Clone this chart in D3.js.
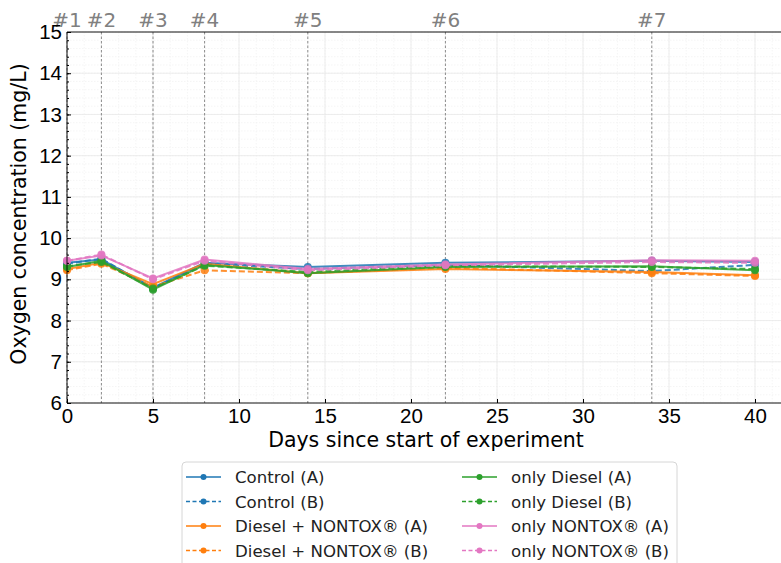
<!DOCTYPE html>
<html>
<head>
<meta charset="utf-8">
<script src="https://cdn.jsdelivr.net/npm/d3@7"></script>
<style>
  body { margin: 0; background: #fff; }
  svg { display: block; font-family: "DejaVu Sans", sans-serif; }
</style>
</head>
<body>
<svg width="781" height="563"></svg>
<script>
var days = [0, 2, 5, 8, 14, 22, 34, 40]

var controlA = [9.40, 9.48, 8.80, 9.40, 9.30, 9.40, 9.45, 9.42]
var controlB = [9.38, 9.50, 8.78, 9.38, 9.25, 9.35, 9.20, 9.35]
var dieselNontoxA = [9.25, 9.40, 8.88, 9.38, 9.15, 9.25, 9.18, 9.10]
var dieselNontoxB = [9.22, 9.38, 8.82, 9.22, 9.15, 9.28, 9.15, 9.08]
var onlyDieselA = [9.30, 9.45, 8.75, 9.35, 9.15, 9.30, 9.32, 9.22]
var onlyDieselB = [9.32, 9.42, 8.78, 9.33, 9.18, 9.32, 9.30, 9.25]
var onlyNontoxA = [9.45, 9.58, 9.02, 9.48, 9.25, 9.36, 9.46, 9.45]
var onlyNontoxB = [9.45, 9.60, 9.00, 9.45, 9.22, 9.34, 9.42, 9.40]

var events = [
  {day: 0, label: "#1"}, {day: 2, label: "#2"}, {day: 5, label: "#3"},
  {day: 8, label: "#4"}, {day: 14, label: "#5"}, {day: 22, label: "#6"},
  {day: 34, label: "#7"}
]

var series = [
  {name: "Control (A)", values: controlA, color: "#1f77b4", dash: null},
  {name: "Control (B)", values: controlB, color: "#1f77b4", dash: "6,3"},
  {name: "Diesel + NONTOX\u00ae (A)", values: dieselNontoxA, color: "#ff7f0e", dash: null},
  {name: "Diesel + NONTOX\u00ae (B)", values: dieselNontoxB, color: "#ff7f0e", dash: "6,3"},
  {name: "only Diesel (A)", values: onlyDieselA, color: "#2ca02c", dash: null},
  {name: "only Diesel (B)", values: onlyDieselB, color: "#2ca02c", dash: "6,3"},
  {name: "only NONTOX\u00ae (A)", values: onlyNontoxA, color: "#e377c2", dash: null},
  {name: "only NONTOX\u00ae (B)", values: onlyNontoxB, color: "#e377c2", dash: "6,3"}
]

var svg = d3.select("svg")
var plotLeft = 67, plotTop = 32, plotBottom = 403

var x = d3.scaleLinear().domain([0, 42]).range([plotLeft, plotLeft + 42 * 17.2])
var y = d3.scaleLinear().domain([6, 15]).range([plotBottom, plotTop])
var plotRight = x(42)

// minor grid
svg.append("g").selectAll("line")
  .data(d3.range(6, 15.001, 0.2))
  .enter().append("line")
  .attr("x1", plotLeft).attr("x2", plotRight)
  .attr("y1", d => y(d)).attr("y2", d => y(d))
  .attr("stroke", "#f0f0f0").attr("stroke-width", 0.7).attr("stroke-dasharray", "1.5,1.5")
svg.append("g").selectAll("line")
  .data(d3.range(0, 43, 1))
  .enter().append("line")
  .attr("x1", d => x(d)).attr("x2", d => x(d))
  .attr("y1", plotTop).attr("y2", plotBottom)
  .attr("stroke", "#f0f0f0").attr("stroke-width", 0.7).attr("stroke-dasharray", "1.5,1.5")

// major grid
svg.append("g").selectAll("line")
  .data(d3.range(6, 16, 1))
  .enter().append("line")
  .attr("x1", plotLeft).attr("x2", plotRight)
  .attr("y1", d => y(d)).attr("y2", d => y(d))
  .attr("stroke", "#e8e8e8").attr("stroke-width", 0.8)
svg.append("g").selectAll("line")
  .data(d3.range(0, 45, 5))
  .enter().append("line")
  .attr("x1", d => x(d)).attr("x2", d => x(d))
  .attr("y1", plotTop).attr("y2", plotBottom)
  .attr("stroke", "#e8e8e8").attr("stroke-width", 0.8)

// event lines
svg.append("g").selectAll("line")
  .data(events)
  .enter().append("line")
  .attr("x1", d => x(d.day)).attr("x2", d => x(d.day))
  .attr("y1", plotTop).attr("y2", plotBottom)
  .attr("stroke", "#8a8a8a").attr("stroke-width", 1).attr("stroke-dasharray", "2.5,2")
svg.append("g").selectAll("text")
  .data(events)
  .enter().append("text")
  .attr("x", d => x(d.day)).attr("y", 27)
  .attr("text-anchor", "middle")
  .attr("fill", "#808080")
  .style("font-size", "20px")
  .text(d => d.label)

// series
var line = d3.line().x((d, i) => x(days[i])).y(d => y(d))
series.forEach(s => {
  var g = svg.append("g").attr("opacity", 0.85)
  g.append("path")
    .attr("d", line(s.values))
    .attr("fill", "none")
    .attr("stroke", s.color)
    .attr("stroke-width", 2)
    .attr("stroke-dasharray", s.dash)
  g.selectAll("circle")
    .data(s.values)
    .enter().append("circle")
    .attr("cx", (d, i) => x(days[i]))
    .attr("cy", d => y(d))
    .attr("r", 4)
    .attr("fill", s.color)
})

// spines
svg.append("line").attr("x1", plotLeft).attr("x2", plotLeft).attr("y1", plotTop).attr("y2", plotBottom)
  .attr("stroke", "#000").attr("stroke-width", 0.9)
svg.append("line").attr("x1", plotLeft).attr("x2", plotRight).attr("y1", plotBottom).attr("y2", plotBottom)
  .attr("stroke", "#000").attr("stroke-width", 0.9)
svg.append("line").attr("x1", plotLeft).attr("x2", plotRight).attr("y1", plotTop).attr("y2", plotTop)
  .attr("stroke", "#000").attr("stroke-width", 0.9)

// axes
var yAxis = svg.append("g").attr("transform", `translate(${plotLeft},0)`)
  .call(d3.axisLeft(y).tickValues(d3.range(6, 16, 1)).tickSize(-4).tickPadding(5).tickFormat(d3.format("d")))
yAxis.select(".domain").remove()
yAxis.selectAll("text").style("font-size", "20.5px").attr("fill", "#000")
var yMinor = svg.append("g").attr("transform", `translate(${plotLeft},0)`)
  .call(d3.axisLeft(y).tickValues(d3.range(6, 15.001, 0.2)).tickSize(-2).tickFormat(""))
yMinor.select(".domain").remove()

var xAxis = svg.append("g").attr("transform", `translate(0,${plotBottom})`)
  .call(d3.axisBottom(x).tickValues(d3.range(0, 45, 5)).tickSize(-4).tickPadding(5))
xAxis.select(".domain").remove()
xAxis.selectAll("text").style("font-size", "20.5px").attr("fill", "#000")

svg.append("text")
  .attr("x", 426).attr("y", 447)
  .attr("text-anchor", "middle")
  .style("font-size", "20.5px")
  .text("Days since start of experiment")
svg.append("text")
  .attr("transform", "translate(26,214) rotate(-90)")
  .attr("text-anchor", "middle")
  .style("font-size", "20.5px")
  .text("Oxygen concentration (mg/L)")

// legend
var legend = svg.append("g").attr("transform", "translate(182,462)")
legend.append("rect")
  .attr("x", 0).attr("y", 0).attr("width", 495).attr("height", 110)
  .attr("rx", 4).attr("fill", "#fff").attr("fill-opacity", 0.8)
  .attr("stroke", "#d6d6d6")
var items = legend.selectAll(".item")
  .data(series)
  .enter().append("g")
  .attr("transform", (d, i) => `translate(${i < 4 ? 4 : 280},${15 + (i % 4) * 24.5})`)
items.append("line")
  .attr("x1", 0).attr("x2", 35)
  .attr("stroke", d => d.color).attr("stroke-width", 1.5)
  .attr("stroke-dasharray", d => d.dash ? "4,2.5" : null)
items.append("circle")
  .attr("cx", 17.5).attr("r", 3).attr("fill", d => d.color)
items.append("text")
  .attr("x", 49).attr("y", 6)
  .style("font-size", "16.6px")
  .attr("fill", "#222")
  .text(d => d.name)
</script>
</body>
</html>
